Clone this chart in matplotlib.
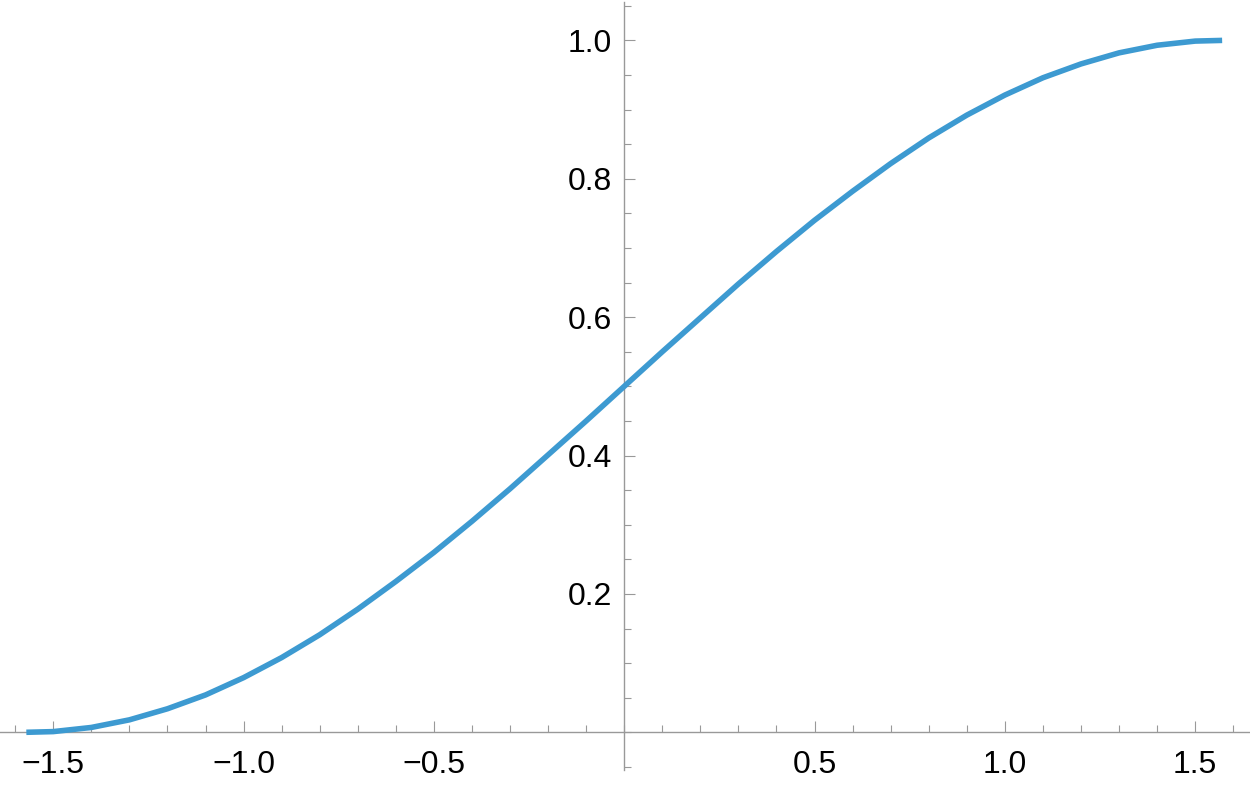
import matplotlib
matplotlib.use("Agg")
import matplotlib.pyplot as plt
from matplotlib.ticker import MultipleLocator, FixedLocator, FixedFormatter

# Curve samples
x_vals = [-1.5708, -1.5, -1.4, -1.3, -1.2, -1.1, -1.0, -0.9, -0.8, -0.7, -0.6,
          -0.5, -0.4, -0.3, -0.2, -0.1, 0.0, 0.1, 0.2, 0.3, 0.4, 0.5, 0.6,
          0.7, 0.8, 0.9, 1.0, 1.1, 1.2, 1.3, 1.4, 1.5, 1.5708]
y_vals = [0.000, 0.001, 0.007, 0.018, 0.034, 0.054, 0.079, 0.108, 0.141, 0.178,
          0.218, 0.260, 0.305, 0.352, 0.401, 0.450, 0.500, 0.550, 0.599, 0.648,
          0.695, 0.740, 0.782, 0.822, 0.859, 0.892, 0.921, 0.946, 0.966, 0.982,
          0.993, 0.999, 1.000]

x_ticks = [-1.5, -1.0, -0.5, 0.5, 1.0, 1.5]
x_tick_labels = ["\u22121.5", "\u22121.0", "\u22120.5", "0.5", "1.0", "1.5"]
y_ticks = [0.2, 0.4, 0.6, 0.8, 1.0]
y_tick_labels = ["0.2", "0.4", "0.6", "0.8", "1.0"]

plt.rcParams['font.family'] = ['Liberation Sans', 'DejaVu Sans']

fig = plt.figure(figsize=(12.5, 7.87), dpi=100)
ax = fig.add_axes([0.0, 17 / 787, 1.0, 1 - 19 / 787])

ax.plot(x_vals, y_vals, color='#3D9AD1', lw=4.0, solid_capstyle='butt',
        solid_joinstyle='round', zorder=3)

ax.set_xlim(-1.640, 1.644)
ax.set_ylim(-0.0545, 1.0555)

axis_color = '#999999'
for s in ['top', 'right']:
    ax.spines[s].set_visible(False)
ax.spines['left'].set_position(('data', 0))
ax.spines['bottom'].set_position(('data', 0))
for s in ['left', 'bottom']:
    ax.spines[s].set_color(axis_color)
    ax.spines[s].set_linewidth(1.0)

ax.xaxis.set_major_locator(FixedLocator(x_ticks))
ax.xaxis.set_major_formatter(FixedFormatter(x_tick_labels))
ax.yaxis.set_major_locator(FixedLocator(y_ticks))
ax.yaxis.set_major_formatter(FixedFormatter(y_tick_labels))
ax.xaxis.set_minor_locator(MultipleLocator(0.1))
ax.yaxis.set_minor_locator(MultipleLocator(0.05))

ax.tick_params(axis='x', which='major', direction='in', length=7.7, width=0.8,
               color=axis_color, labelsize=23, pad=13)
ax.tick_params(axis='x', which='minor', direction='in', length=4.8, width=0.8,
               color=axis_color)
ax.tick_params(axis='y', which='major', direction='in', length=7.7, width=0.8,
               color=axis_color, labelsize=23, pad=9)
ax.tick_params(axis='y', which='minor', direction='in', length=4.8, width=0.8,
               color=axis_color)
ax.patch.set_alpha(0)

fig.savefig('out.png', dpi=100)
